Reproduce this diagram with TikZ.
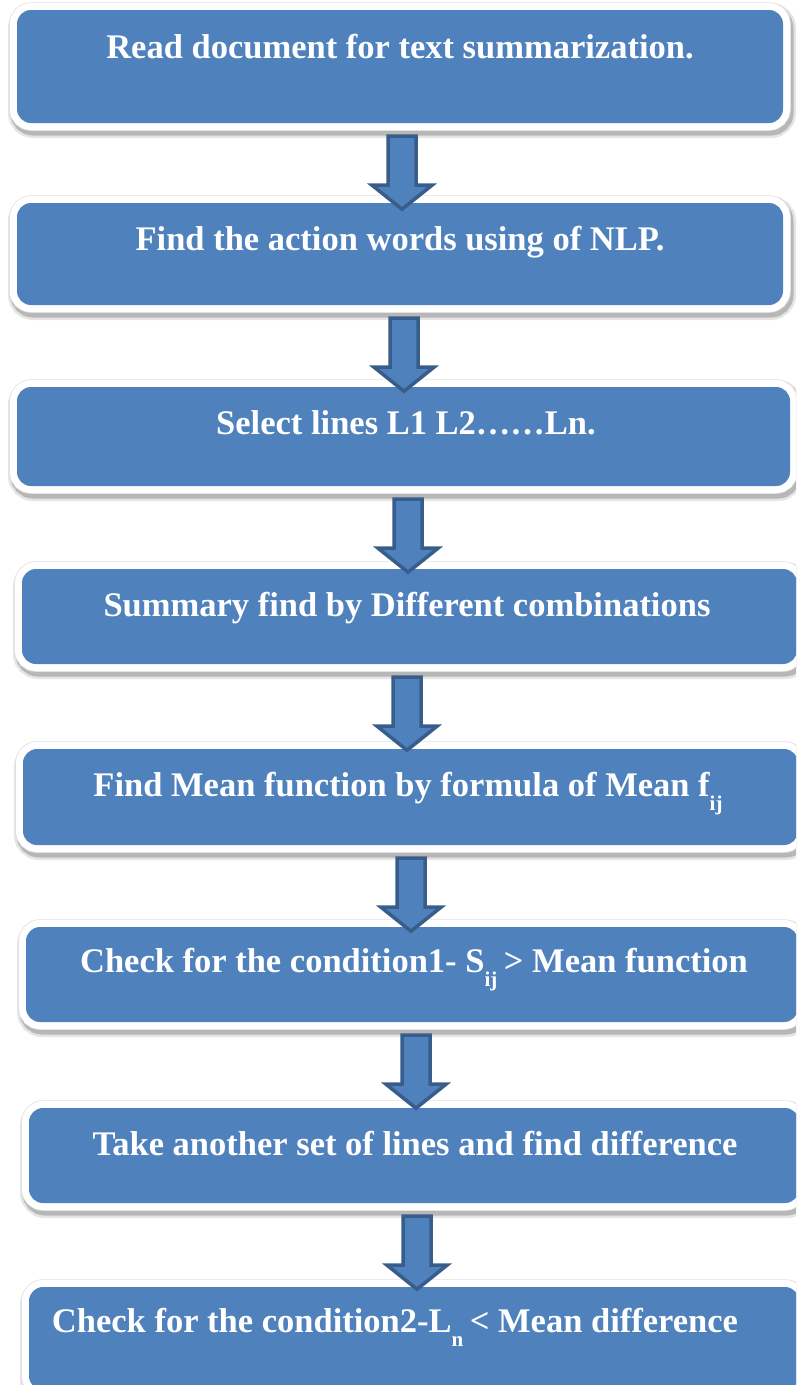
\documentclass[tikz,border=0pt]{standalone}
\usepackage{fontspec}
\setmainfont{Liberation Serif}
\usetikzlibrary{calc}
\definecolor{boxblue}{HTML}{4F81BD}
\definecolor{arrowdark}{HTML}{385D8A}
\tikzset{
  flowbox/.style={fill=boxblue, draw=none, rounded corners=14pt, inner sep=0pt,
    preaction={draw=black, line width=22pt, opacity=0.10, rounded corners=14pt, transform canvas={shift={(2pt,-4pt)}}},
    preaction={draw=black, line width=17pt, opacity=0.20, rounded corners=14pt, transform canvas={shift={(2pt,-4pt)}}},
    preaction={draw=black!12, line width=15.5pt, rounded corners=14pt},
    preaction={draw=white, line width=14pt, rounded corners=14pt}},
  flowtext/.style={text=white, font=\fontsize{34.5}{40}\selectfont\bfseries, anchor=base, inner sep=0pt},
  flowarrow/.style={fill=boxblue, draw=arrowdark, line width=3.5pt, line join=miter}
}
\newcommand\lowsub[1]{\raisebox{-14pt}{\fontsize{21}{21}\selectfont #1}}
\newcommand\arrowpath{++(-14,0) -- ++(28,0) -- ++(0,49) -- ++(16,0) -- ++(-30,24) -- ++(-30,-24) -- ++(16,0) -- cycle}
\begin{document}
\begin{tikzpicture}[x=1pt,y=-1pt]
\useasboundingbox (0,0) rectangle (796,1385);
\begin{scope}
\clip (0,0) rectangle (796,1385);
% boxes
\node[flowbox, minimum width=766pt, minimum height=113pt] (b1) at (400,66.5) {};
\node[flowtext] (t1) at (400,58) {Read document for text summarization.};
\node[flowbox, minimum width=766pt, minimum height=102pt] (b2) at (400,254) {};
\node[flowtext] (t2) at (400,250) {Find the action words using of NLP.};
\node[flowbox, minimum width=773pt, minimum height=99pt] (b3) at (403.5,436.5) {};
\node[flowtext] (t3) at (406,434) {Select lines L1 L2……Ln.};
\node[flowbox, minimum width=775pt, minimum height=95pt] (b4) at (409.5,616.5) {};
\node[flowtext] (t4) at (407,616) {Summary find by Different combinations};
\node[flowbox, minimum width=775pt, minimum height=96pt] (b5) at (410.5,797) {};
\node[flowtext] (t5) at (408,796) {Find Mean function by formula of Mean f\lowsub{ij}};
\node[flowbox, minimum width=772pt, minimum height=95pt] (b6) at (412,974.5) {};
\node[flowtext] (t6) at (414,972) {Check for the condition1- S\lowsub{ij} \kern-2pt> Mean function};
\node[flowbox, minimum width=770pt, minimum height=95pt] (b7) at (414,1155.5) {};
\node[flowtext] (t7) at (415,1155) {Take another set of lines and find difference};
\node[flowbox, minimum width=770pt, minimum height=103pt] (b8) at (414,1338.5) {};
\node[flowtext] (t8) at (395,1332) {Check for the condition2-L\lowsub{n} \kern-2pt< Mean difference};
% arrows
\draw[flowarrow] ($(b1.south -| 402,0)+(0,13)$) coordinate (a1) \arrowpath;
\draw[flowarrow] ($(b2.south -| 404,0)+(0,13)$) coordinate (a2) \arrowpath;
\draw[flowarrow] ($(b3.south -| 408,0)+(0,13)$) coordinate (a3) \arrowpath;
\draw[flowarrow] ($(b4.south -| 407,0)+(0,13)$) coordinate (a4) \arrowpath;
\draw[flowarrow] ($(b5.south -| 411,0)+(0,13)$) coordinate (a5) \arrowpath;
\draw[flowarrow] ($(b6.south -| 416,0)+(0,13)$) coordinate (a6) \arrowpath;
\draw[flowarrow] ($(b7.south -| 417,0)+(0,13)$) coordinate (a7) \arrowpath;
\end{scope}
\end{tikzpicture}
\end{document}
